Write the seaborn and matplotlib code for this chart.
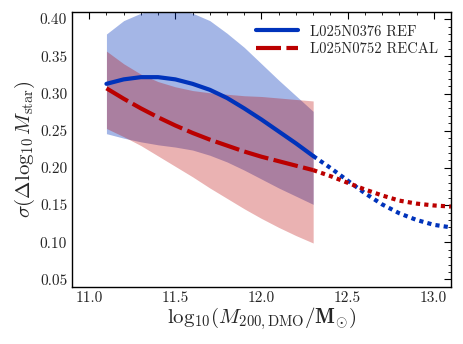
import numpy as np
import pandas as pd
import seaborn as sns
import matplotlib.pyplot as plt
from matplotlib.ticker import MultipleLocator

# halo mass bins covered by the simulations
x_sim = [11.1, 11.2, 11.3, 11.4, 11.5, 11.6, 11.7, 11.8, 11.9, 12.0, 12.1, 12.2, 12.3]
# extrapolated part
x_ext = [12.3, 12.4, 12.5, 12.6, 12.7, 12.8, 12.9, 13.0, 13.1]

ref_sim = [0.313, 0.319, 0.322, 0.322, 0.319, 0.313, 0.305, 0.294, 0.280, 0.265, 0.249, 0.233, 0.216]
ref_ext = [0.216, 0.200, 0.183, 0.166, 0.151, 0.139, 0.130, 0.1235, 0.120]
ref_hi = [0.380, 0.398, 0.408, 0.413, 0.413, 0.408, 0.398, 0.381, 0.362, 0.340, 0.318, 0.297, 0.276]
ref_lo = [0.246, 0.240, 0.235, 0.231, 0.228, 0.224, 0.217, 0.208, 0.197, 0.185, 0.173, 0.162, 0.151]

recal_sim = [0.307, 0.293, 0.280, 0.268, 0.257, 0.247, 0.238, 0.230, 0.222, 0.215, 0.209, 0.203, 0.197]
recal_ext = [0.197, 0.189, 0.180, 0.171, 0.163, 0.156, 0.152, 0.1495, 0.148]
recal_hi = [0.357, 0.340, 0.326, 0.316, 0.309, 0.304, 0.301, 0.299, 0.297, 0.296, 0.294, 0.292, 0.290]
recal_lo = [0.253, 0.242, 0.230, 0.216, 0.202, 0.188, 0.173, 0.159, 0.145, 0.132, 0.120, 0.109, 0.099]

blue = '#0033bb'
red = '#bb0000'

sns.set_style("white")
plt.rcParams['font.family'] = 'serif'
plt.rcParams['font.serif'] = ['cmr10', 'DejaVu Serif']
plt.rcParams['mathtext.fontset'] = 'cm'
plt.rcParams['axes.formatter.use_mathtext'] = True

fig = plt.figure(figsize=(4.63, 3.44), dpi=100)
ax = fig.add_axes([0.1555, 0.166, 0.8185, 0.800])

ax.fill_between(x_sim, ref_lo, ref_hi, color=blue, alpha=0.357, lw=0)
ax.fill_between(x_sim, recal_lo, recal_hi, color=red, alpha=0.3, lw=0)

sim = pd.DataFrame({'x': x_sim, 'ref': ref_sim, 'recal': recal_sim})
ext = pd.DataFrame({'x': x_ext, 'ref': ref_ext, 'recal': recal_ext})

sns.lineplot(data=sim, x='x', y='ref', color=blue, lw=3, ax=ax, label='L025N0376 REF')
sns.lineplot(data=sim, x='x', y='recal', color=red, lw=3, ax=ax, label='L025N0752 RECAL',
             linestyle=(0, (6, 1.3)))
sns.lineplot(data=ext, x='x', y='ref', color=blue, lw=3, ax=ax, linestyle=(0, (1, 1)))
sns.lineplot(data=ext, x='x', y='recal', color=red, lw=3, ax=ax, linestyle=(0, (1, 1)))

ax.set_xlim(10.9, 13.1)
ax.set_ylim(0.04, 0.41)
ax.xaxis.set_major_locator(MultipleLocator(0.5))
ax.xaxis.set_minor_locator(MultipleLocator(0.1))
ax.yaxis.set_major_locator(MultipleLocator(0.05))
ax.yaxis.set_minor_locator(MultipleLocator(0.01))
ax.xaxis.set_major_formatter(plt.FuncFormatter(lambda v, p: f'{v:.1f}'))
ax.yaxis.set_major_formatter(plt.FuncFormatter(lambda v, p: f'{v:.2f}'))
ax.tick_params(which='both', direction='in', top=True, right=True, labelsize=11, color='k')
ax.tick_params(which='major', length=5, width=0.8)
ax.tick_params(which='minor', length=2.5, width=0.6)
for s in ax.spines.values():
    s.set_color('k')
    s.set_linewidth(1)

ax.set_xlabel(r'$\mathrm{log}_{10}(M_{\rm 200,DMO}/\mathbf{M}_{\odot})$', fontsize=15, labelpad=0)
ax.set_ylabel(r'$\sigma(\Delta\log_{10}M_{\rm star})$', fontsize=15, labelpad=2)

ax.legend(loc='upper right', frameon=False, fontsize=10.5, handlelength=2.9,
          handletextpad=0.8, borderaxespad=0.5, labelspacing=0.25)

fig.savefig('out.png', dpi=100)
